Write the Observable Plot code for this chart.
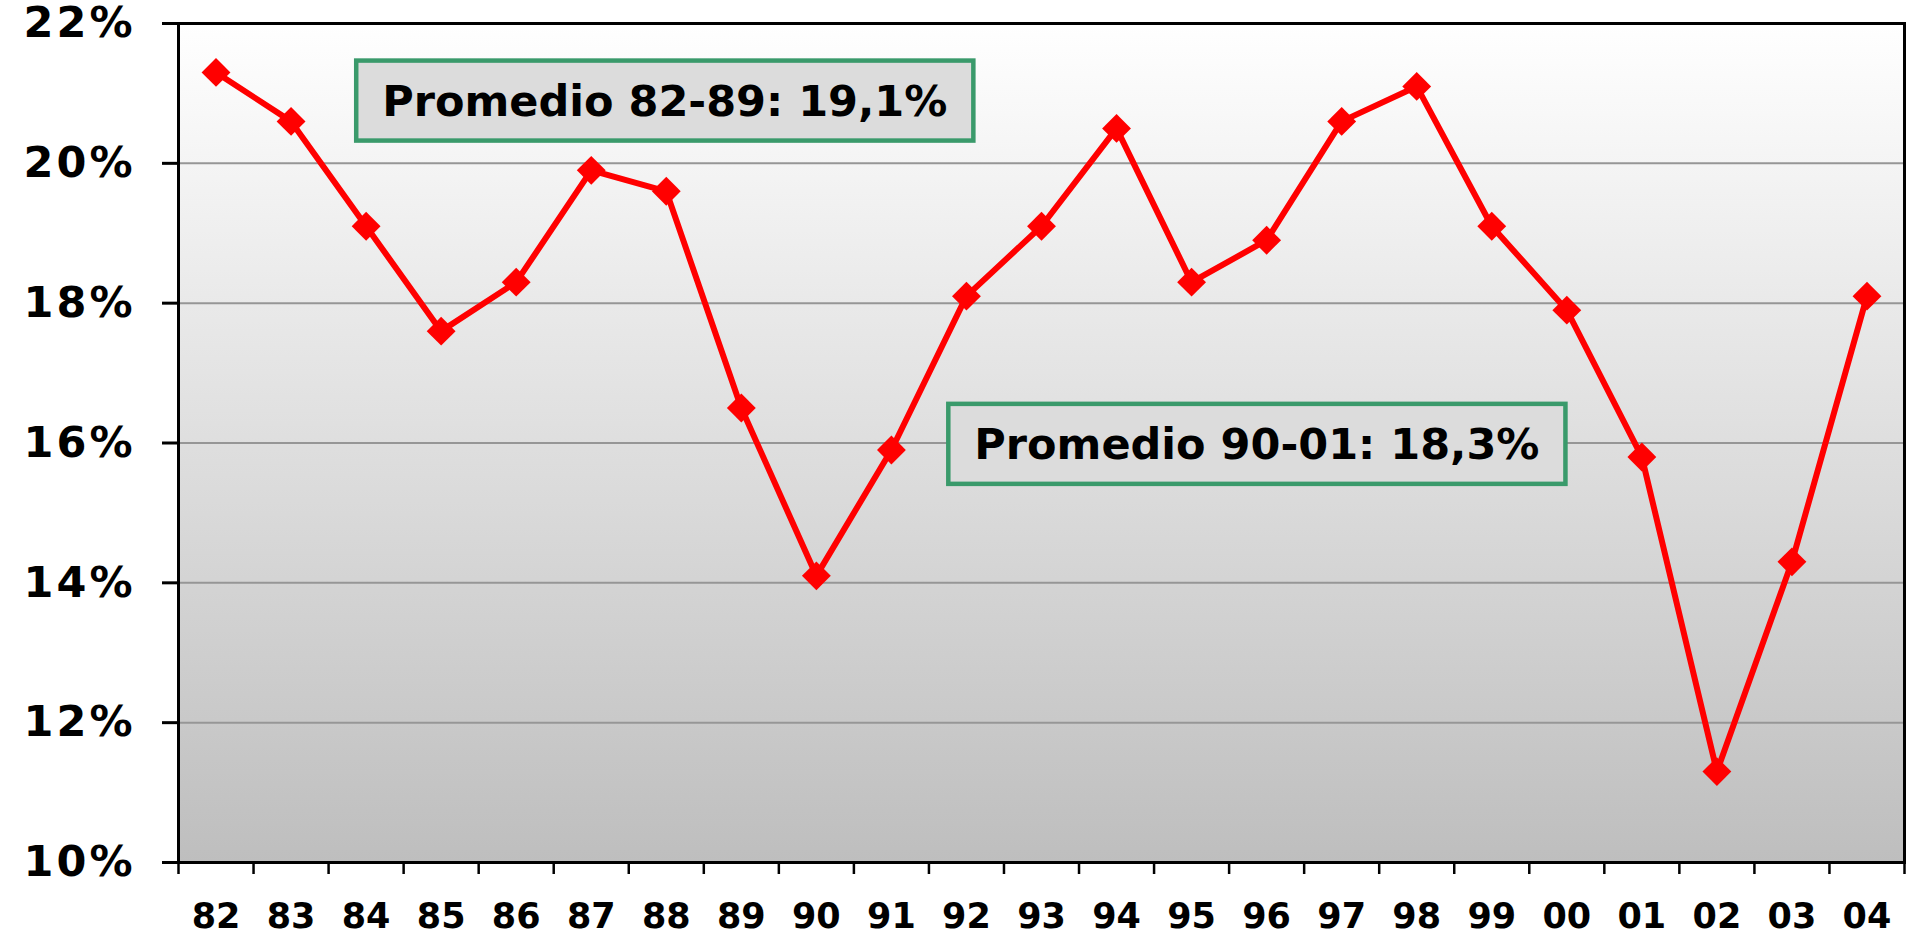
<!DOCTYPE html>
<html>
<head>
<meta charset="utf-8">
<script src="https://cdn.jsdelivr.net/npm/d3@7"></script>
<script src="https://cdn.jsdelivr.net/npm/@observablehq/plot@0.6"></script>
<style>
  html, body { margin: 0; padding: 0; background: #ffffff; }
  #chart { width: 1917px; height: 935px; }
  .yax text { letter-spacing: 3px; }
</style>
</head>
<body>
<div id="chart"></div>
<script>
// ---- Data ----
const years = ["82","83","84","85","86","87","88","89","90","91","92","93","94","95","96","97","98","99","00","01","02","03","04"];
const values = [21.3, 20.6, 19.1, 17.6, 18.3, 19.9, 19.6, 16.5, 14.1, 15.9, 18.1, 19.1, 20.5, 18.3, 18.9, 20.6, 21.1, 19.1, 17.9, 15.8, 11.3, 14.3, 18.1];
const yTicks = [10, 12, 14, 16, 18, 20, 22];
const annotationLabels = ["Promedio 82-89: 19,1%", "Promedio 90-01: 18,3%"];
const annotationX = [6.48, 14.37];   // position along the year axis (index units)
const annotationY = [20.88, 15.97];  // position in % units

const data = years.map((year, i) => ({pos: i + 0.5, year, value: values[i]}));
const annotations = annotationLabels.map((label, i) => ({label, x: annotationX[i], y: annotationY[i]}));

const font = "'DejaVu Sans', Verdana, sans-serif";

const background = (index, scales, values, dims) => {
  const g = d3.create("svg:g");
  const lg = g.append("defs").append("linearGradient")
    .attr("id", "bgGrad").attr("x1", 0).attr("y1", 0).attr("x2", 0).attr("y2", 1);
  lg.append("stop").attr("offset", "0%").attr("stop-color", "#ffffff");
  lg.append("stop").attr("offset", "100%").attr("stop-color", "#bebebe");
  g.append("rect")
    .attr("x", dims.marginLeft)
    .attr("y", dims.marginTop)
    .attr("width", dims.width - dims.marginLeft - dims.marginRight)
    .attr("height", dims.height - dims.marginTop - dims.marginBottom)
    .attr("fill", "url(#bgGrad)");
  return g.node();
};

const chart = Plot.plot({
  width: 1917,
  height: 935,
  marginLeft: 178,
  marginRight: 13,
  marginTop: 23,
  marginBottom: 73,
  style: {fontFamily: font, background: "#ffffff", color: "#000"},
  x: {type: "linear", domain: [0, years.length], label: null},
  y: {domain: [10, 22], label: null},
  marks: [
    background,
    Plot.gridY(yTicks.slice(1, -1), {stroke: "#969696", strokeOpacity: 1, strokeWidth: 2}),
    Plot.axisY(yTicks, {
      tickSize: 16, tickPadding: 27, strokeWidth: 3, stroke: "#000", fill: "#000",
      tickFormat: d => d + "%", fontSize: 43, fontWeight: "bold", label: null,
      className: "yax"
    }),
    Plot.axisX(d3.range(0, years.length + 1), {
      tickSize: 12, strokeWidth: 2.5, stroke: "#000", tickFormat: () => "", label: null
    }),
    Plot.axisX(data.map(d => d.pos), {
      tickSize: 0, tickPadding: 41, fill: "#000",
      tickFormat: d => years[Math.floor(d)], fontSize: 35, fontWeight: "bold", label: null
    }),
    Plot.frame({stroke: "#000", strokeWidth: 3}),
    Plot.line(data, {x: "pos", y: "value", stroke: "#ff0000", strokeWidth: 6, strokeLinejoin: "miter"}),
    Plot.dot(data, {x: "pos", y: "value", symbol: "diamond2", r: 13, fill: "#ff0000", stroke: "none"}),
    Plot.text(annotations, {
      x: "x", y: "y", text: "label", fontSize: 43, fontWeight: "bold", fill: "#000",
      className: "annot"
    })
  ]
});

document.getElementById("chart").appendChild(chart);

// Draw boxes around the annotation texts, sized from the rendered text
d3.select(chart).selectAll(".annot text").each(function() {
  const bb = this.getBBox();
  const padX = 26, padY = 15;
  const rect = document.createElementNS("http://www.w3.org/2000/svg", "rect");
  rect.setAttribute("x", bb.x - padX);
  rect.setAttribute("y", bb.y - padY);
  rect.setAttribute("width", bb.width + 2 * padX);
  rect.setAttribute("height", bb.height + 2 * padY);
  rect.setAttribute("fill", "#dcdcdc");
  rect.setAttribute("stroke", "#3a9a6b");
  rect.setAttribute("stroke-width", 4.5);
  const t = this.getAttribute("transform");
  if (t) rect.setAttribute("transform", t);
  this.parentNode.insertBefore(rect, this);
});
</script>
</body>
</html>
